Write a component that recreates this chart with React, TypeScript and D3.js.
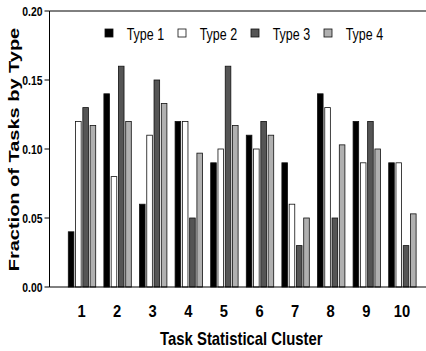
import React, { useEffect, useRef } from 'react';
import * as d3 from 'd3';

const clusters = ['1', '2', '3', '4', '5', '6', '7', '8', '9', '10'];
const types = ['Type 1', 'Type 2', 'Type 3', 'Type 4'];
const typeColors = ['#000000', '#ffffff', '#555555', '#b0b0b0'];
const type1 = [0.04, 0.14, 0.06, 0.12, 0.09, 0.11, 0.09, 0.14, 0.12, 0.09];
const type2 = [0.12, 0.08, 0.11, 0.12, 0.10, 0.10, 0.06, 0.13, 0.09, 0.09];
const type3 = [0.13, 0.16, 0.15, 0.05, 0.16, 0.12, 0.03, 0.05, 0.12, 0.03];
const type4 = [0.117, 0.12, 0.133, 0.097, 0.117, 0.11, 0.05, 0.103, 0.10, 0.053];
const yTicks = [0, 0.05, 0.1, 0.15, 0.2];

const series = [type1, type2, type3, type4];

function App() {
  const ref = useRef(null);

  useEffect(() => {
    if (!ref.current) return;
    document.body.style.margin = '0';
    const svg = d3.select(ref.current);
    svg.selectAll('*').remove();

    const width = 426;
    const height = 351;
    const left = 49.5;
    const top = 11;
    const bottom = 287;

    const y = d3.scaleLinear().domain([0, 0.2]).range([bottom, top]);
    const x0 = d3.scaleBand()
      .domain(clusters)
      .range([64.2, 420.2])
      .paddingInner(0.23)
      .paddingOuter(0.115);
    const x1 = d3.scaleBand()
      .domain(types)
      .range([0, x0.bandwidth()])
      .paddingInner(0.23);

    svg.attr('width', width).attr('height', height);

    // bars
    const groups = svg.append('g')
      .selectAll('g')
      .data(clusters)
      .enter()
      .append('g')
      .attr('transform', d => `translate(${x0(d)},0)`);

    groups.selectAll('rect')
      .data((c, ci) => types.map((t, ti) => ({ t, ti, v: series[ti][ci] })))
      .enter()
      .append('rect')
      .attr('x', d => x1(d.t))
      .attr('y', d => y(d.v))
      .attr('width', x1.bandwidth())
      .attr('height', d => bottom - y(d.v))
      .attr('fill', d => typeColors[d.ti])
      .attr('stroke', '#111')
      .attr('stroke-width', 0.8);

    // frame: left axis, top line, bottom line
    svg.append('line')
      .attr('x1', left).attr('x2', left).attr('y1', top).attr('y2', bottom)
      .attr('stroke', '#000').attr('stroke-width', 1);
    svg.append('line')
      .attr('x1', left).attr('x2', width).attr('y1', top).attr('y2', top)
      .attr('stroke', '#000').attr('stroke-width', 1);
    svg.append('line')
      .attr('x1', left).attr('x2', width).attr('y1', bottom).attr('y2', bottom)
      .attr('stroke', '#000').attr('stroke-width', 1);

    // y ticks
    const yt = svg.append('g');
    yt.selectAll('line')
      .data(yTicks)
      .enter()
      .append('line')
      .attr('x1', left - 5).attr('x2', left)
      .attr('y1', d => y(d)).attr('y2', d => y(d))
      .attr('stroke', '#000');
    yt.selectAll('g')
      .data(yTicks)
      .enter()
      .append('g')
      .attr('transform', d => `translate(${left - 7},${y(d) + 4.5}) scale(0.8,1)`)
      .append('text')
      .attr('text-anchor', 'end')
      .style('font-family', 'Arial, "Liberation Sans", sans-serif')
      .style('font-weight', 'bold')
      .style('font-size', '13px')
      .text(d => d3.format('.2f')(d));

    // x tick labels
    svg.append('g')
      .selectAll('g')
      .data(clusters)
      .enter()
      .append('g')
      .attr('transform', d => `translate(${x0(d) + x0.bandwidth() / 2 - 0.5},316.5) scale(0.92,1)`)
      .append('text')
      .attr('text-anchor', 'middle')
      .style('font-family', 'Arial, "Liberation Sans", sans-serif')
      .style('font-weight', 'bold')
      .style('font-size', '16px')
      .text(d => d);

    // axis titles
    svg.append('g')
      .attr('transform', 'translate(241.3,345) scale(0.8,1)')
      .append('text')
      .attr('text-anchor', 'middle')
      .style('font-family', 'Arial, "Liberation Sans", sans-serif')
      .style('font-weight', 'bold')
      .style('font-size', '18.6px')
      .text('Task Statistical Cluster');

    svg.append('g')
      .attr('transform', 'translate(19,149.5) rotate(-90) scale(1,0.75)')
      .append('text')
      .attr('text-anchor', 'middle')
      .style('font-family', 'Arial, "Liberation Sans", sans-serif')
      .style('font-weight', 'bold')
      .style('font-size', '20px')
      .text('Fraction of Tasks by Type');

    // legend
    const legend = svg.append('g')
      .selectAll('g')
      .data(types)
      .enter()
      .append('g')
      .attr('transform', (d, i) => `translate(${105 + i * 73},0)`);
    legend.append('rect')
      .attr('x', 0).attr('y', 29)
      .attr('width', 8).attr('height', 8)
      .attr('fill', (d, i) => typeColors[i])
      .attr('stroke', '#111')
      .attr('stroke-width', 0.8);
    legend.append('g')
      .attr('transform', 'translate(21.7,39.5) scale(0.78,1)')
      .append('text')
      .style('font-family', 'Arial, "Liberation Sans", sans-serif')
      .style('font-size', '16px')
      .text(d => d);
  }, []);

  return <svg ref={ref} style={{ display: 'block' }}></svg>;
}

export default App;
